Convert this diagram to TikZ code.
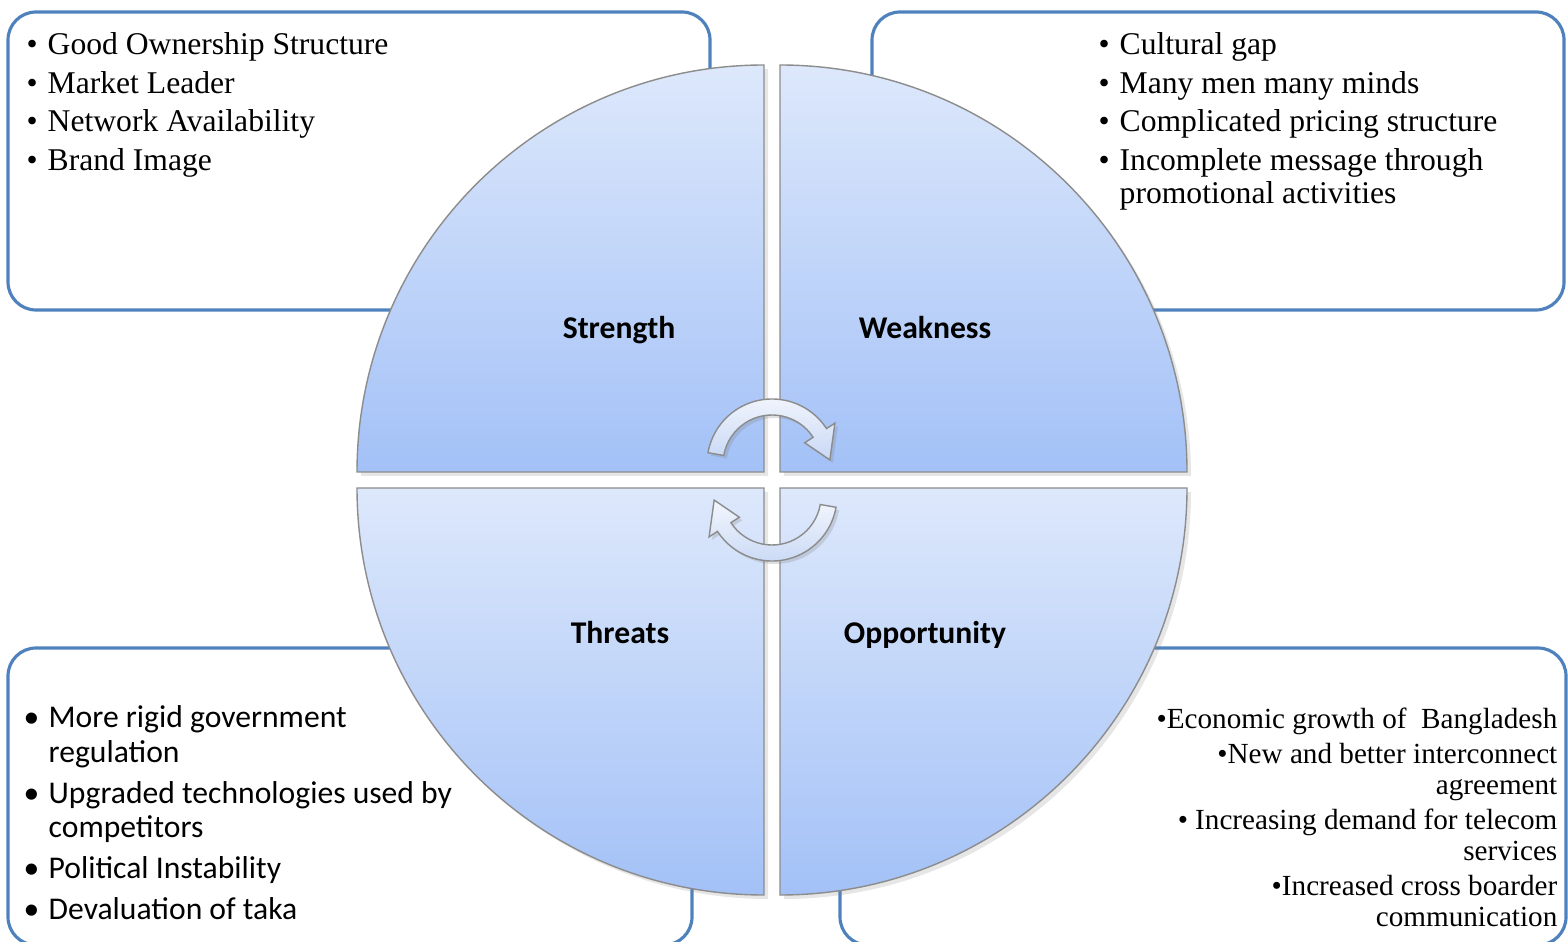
\documentclass[tikz,border=0pt]{standalone}
\usepackage{fontspec}
\setmainfont{Liberation Serif}
\newfontfamily\calibri{Carlito}
\usetikzlibrary{shadows}
\definecolor{qtop}{HTML}{DDE8FB}
\definecolor{qbot}{HTML}{A3C1F7}
\definecolor{atop}{HTML}{F3F6FD}
\definecolor{abot}{HTML}{C8D8F5}
\definecolor{frame}{HTML}{4F81BD}
\definecolor{rim}{HTML}{8C8C8C}
\newcommand{\bul}{\makebox[0.21cm][l]{\textbullet}}
\newcommand{\cbul}{\makebox[0.21cm][l]{\hspace*{-0.04cm}\textbullet}}
\newcommand{\hang}{\hspace*{0.21cm}}

\begin{document}
\begin{tikzpicture}
   [box/.style={draw=frame,line width=0.9pt,rounded corners=0.28cm},
quad/.style={draw=rim,line width=0.4pt,top color=qtop,bottom color=qbot,
drop shadow={opacity=0.2,shadow xshift=0.04,shadow yshift=-0.04}},
cyc/.style={draw=rim,line width=0.4pt,top color=atop,bottom color=abot,
drop shadow={opacity=0.25,shadow xshift=0.03,shadow yshift=-0.03}},
lbl/.style={font=\calibri\bfseries\fontsize{9}{11}\selectfont,inner sep=0pt,
text height=6.1pt,text depth=0pt},
lst/.style={align=left,inner sep=0pt,anchor=north west}]
%%
\useasboundingbox (0,0) rectangle (15.68,-9.42);
\newcommand{\xytl}{(7.64,-4.72)}
\newcommand{\xytr}{(7.80,-4.72)}
\newcommand{\xybl}{(7.64,-4.88)}
\newcommand{\xybr}{(7.80,-4.88)}
\newcommand{\cycarrow}{(170:0.65) arc[start angle=170,end angle=33,radius=0.65]
  -- (33:0.75) -- (4:0.58) -- (33:0.39) -- (33:0.49)
  arc[start angle=33,end angle=170,radius=0.49] -- cycle}
%%
%% frames
\draw[box] (0.08,-0.12) rectangle (7.10,-3.10);
\draw[box] (8.72,-0.12) rectangle (15.64,-3.10);
\draw[box] (0.08,-6.48) rectangle (6.92,-9.45);
\draw[box] (8.40,-6.48) rectangle (15.66,-9.45);
%%
%% quarters
\path[quad] \xytl -- ++(-4.07,0) arc[start angle=180,end angle=90,radius=4.07] -- cycle;
\path[quad] \xytr -- ++(0,4.07) arc[start angle=90,end angle=0,radius=4.07] -- cycle;
\path[quad] \xybl -- ++(0,-4.07) arc[start angle=270,end angle=180,radius=4.07] -- cycle;
\path[quad] \xybr -- ++(4.07,0) arc[start angle=0,end angle=-90,radius=4.07] -- cycle;
%%
\begin{scope}[shift={(7.72,-4.64)}]
\path[cyc] \cycarrow;
\end{scope}
\begin{scope}[shift={(7.72,-4.96)},rotate=180]
\path[cyc] \cycarrow;
\end{scope}
%%
\node (str) [lbl] at (6.19,-3.28) {Strength};
\node (weak) [lbl] at (9.25,-3.28) {Weakness};
\node (thr) [lbl] at (6.20,-6.33) {Threats};
\node (opp) [lbl] at (9.25,-6.33) {Opportunity};
%%
%% lists
\node (slist) [lst,font=\fontsize{9}{11}\selectfont] at (0.26,-0.32)
  {\bul Good Ownership Structure\\ \bul Market Leader\\
   \bul Network Availability\\ \bul Brand Image};
\node (wlist) [lst,font=\fontsize{9}{9.4}\selectfont] at (10.98,-0.32)
  {\bul Cultural gap\\[1.6pt] \bul Many men many minds\\[1.6pt]
   \bul Complicated pricing structure\\[1.6pt]
   \bul Incomplete message through\\ \hang promotional activities};
\node (tlist) [lst,font=\calibri\fontsize{9}{9.8}\selectfont] at (0.27,-7.05)
  {\cbul More rigid government\\ \hang regulation\\[1.9pt]
   \cbul Upgraded technologies used by\\ \hang competitors\\[1.9pt]
   \cbul Political Instability\\[1.9pt] \cbul Devaluation of taka};
\node (olist) [align=right,inner sep=0pt,anchor=north east,
  font=\fontsize{8.3}{8.8}\selectfont] at (15.58,-7.07)
  {\textbullet Economic growth of \ Bangladesh\\[1.2pt]
   \textbullet New and better interconnect\\ agreement\\[1.2pt]
   \textbullet\ Increasing demand for telecom\\ services\\[1.2pt]
   \textbullet Increased cross boarder\\ communication};
\end{tikzpicture}
\end{document}
